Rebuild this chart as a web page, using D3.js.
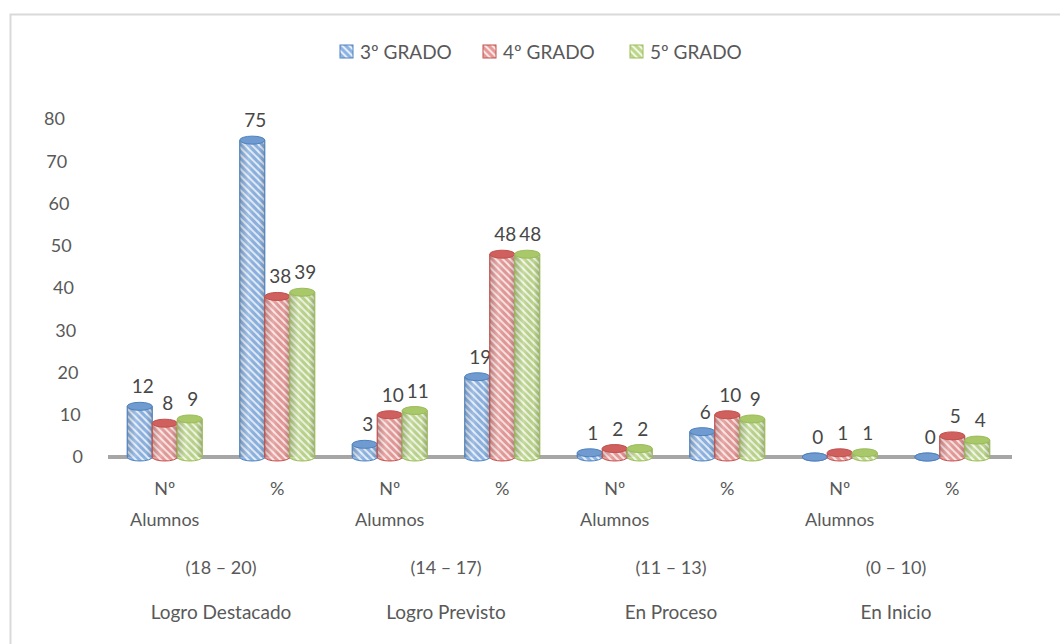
<!DOCTYPE html>
<meta charset="utf-8">
<script src="https://d3js.org/d3.v7.js"></script>
<style>
  body { margin: 0; background: #fff; }
  text { font-family: Lato, "Open Sans", sans-serif; fill: #595959; }
</style>
<div id="my_dataviz"></div>
<script>

// data
const categories = ["Nº Alumnos", "%", "Nº Alumnos", "%", "Nº Alumnos", "%", "Nº Alumnos", "%"];
const ranges = ["(18 – 20)", "(14 – 17)", "(11 – 13)", "(0 – 10)"];
const levels = ["Logro Destacado", "Logro Previsto", "En Proceso", "En Inicio"];
const seriesNames = ["3º GRADO", "4º GRADO", "5º GRADO"];
const grado3 = [12, 75, 3, 19, 1, 6, 0, 0];
const grado4 = [8, 38, 10, 48, 2, 10, 1, 5];
const grado5 = [9, 39, 11, 48, 2, 9, 1, 4];
const yTicks = [0, 10, 20, 30, 40, 50, 60, 70, 80];

const series = [grado3, grado4, grado5];
const colors = [
  {base: "#8db3e2", stripe: "#e4eefa", edge: "#4f81bd", top: "#6f9bd1"},
  {base: "#e59a98", stripe: "#fbe6e5", edge: "#c0504d", top: "#d0605d"},
  {base: "#bcd68c", stripe: "#f1f7e4", edge: "#9bbb59", top: "#a8c86a"}
];

const width = 1060, height = 644;
const svg = d3.select("#my_dataviz")
  .append("svg")
    .attr("width", width)
    .attr("height", height);

// outer frame
svg.append("rect")
  .attr("x", 10.5).attr("y", 14.5)
  .attr("width", 1060).attr("height", 640)
  .attr("fill", "none")
  .attr("stroke", "#d9d9d9")
  .attr("stroke-width", 2);

const defs = svg.append("defs");
colors.forEach(function(c, i) {
  const p = defs.append("pattern")
    .attr("id", "hatch" + i)
    .attr("patternUnits", "userSpaceOnUse")
    .attr("width", 5).attr("height", 5)
    .attr("patternTransform", "rotate(-45)");
  p.append("rect").attr("width", 5).attr("height", 5).attr("fill", c.base);
  p.append("rect").attr("width", 2).attr("height", 5).attr("fill", c.stripe);
});
// cylinder shading
const grad = defs.append("linearGradient").attr("id", "shade")
  .attr("x1", "0%").attr("x2", "100%");
grad.append("stop").attr("offset", "0%").attr("stop-color", "#000").attr("stop-opacity", 0.18);
grad.append("stop").attr("offset", "35%").attr("stop-color", "#fff").attr("stop-opacity", 0.15);
grad.append("stop").attr("offset", "75%").attr("stop-color", "#000").attr("stop-opacity", 0.0);
grad.append("stop").attr("offset", "100%").attr("stop-color", "#000").attr("stop-opacity", 0.2);

// scales
const x0 = d3.scaleBand()
  .domain(d3.range(categories.length))
  .range([108.5, 1008.5]);
const groupW = 75;
const x1 = d3.scaleBand()
  .domain(d3.range(series.length))
  .range([0, groupW]);
const y = d3.scaleLinear()
  .domain([0, 80])
  .range([457, 119]);
// tick labels lean to the left going up (3D wall)
const tickX = d3.scaleLinear().domain([0, 80]).range([83, 65]);

// y tick labels
svg.selectAll(".ytick")
  .data(yTicks)
  .join("text")
    .attr("class", "ytick")
    .attr("x", d => tickX(d))
    .attr("y", d => y(d))
    .attr("dy", "0.35em")
    .attr("text-anchor", "end")
    .style("font-size", "18px")
    .text(d => d);

// floor
svg.append("rect")
  .attr("x", 108).attr("y", 455)
  .attr("width", 904).attr("height", 4)
  .attr("fill", "#a6a6a6");

// bars as cylinders
const ry = 4;
const bars = [];
series.forEach(function(vals, s) {
  vals.forEach(function(v, i) {
    bars.push({s: s, i: i, v: v});
  });
});

const bar = svg.selectAll(".bar")
  .data(bars)
  .join("g")
    .attr("class", "bar")
    .attr("transform", d => `translate(${x0(d.i) + (x0.bandwidth() - groupW) / 2 + x1(d.s)}, 0)`);

const bw = x1.bandwidth();

bar.append("ellipse")
  .attr("cx", bw / 2).attr("cy", y(0))
  .attr("rx", bw / 2).attr("ry", ry)
  .attr("fill", d => `url(#hatch${d.s})`)
  .attr("stroke", d => colors[d.s].edge)
  .attr("stroke-width", 1);

bar.filter(d => d.v > 0).append("rect")
  .attr("x", 0).attr("y", d => y(d.v))
  .attr("width", bw).attr("height", d => y(0) - y(d.v))
  .attr("fill", d => `url(#hatch${d.s})`);

bar.filter(d => d.v > 0).append("rect")
  .attr("x", 0).attr("y", d => y(d.v))
  .attr("width", bw).attr("height", d => y(0) - y(d.v))
  .attr("fill", "url(#shade)");

bar.filter(d => d.v > 0).append("path")
  .attr("d", d => `M0,${y(d.v)}V${y(0)}M${bw},${y(d.v)}V${y(0)}`)
  .attr("stroke", d => colors[d.s].edge)
  .attr("stroke-width", 1.2);

bar.append("ellipse")
  .attr("cx", bw / 2).attr("cy", d => y(d.v))
  .attr("rx", bw / 2).attr("ry", ry)
  .attr("fill", d => colors[d.s].top)
  .attr("stroke", d => colors[d.s].edge)
  .attr("stroke-width", 1);

// value labels
bar.append("text")
  .attr("x", bw / 2 + 3)
  .attr("y", d => y(d.v) - 13)
  .attr("text-anchor", "middle")
  .style("font-size", "19px")
  .style("fill", "#474747")
  .text(d => d.v);

// category labels
const cat = svg.selectAll(".cat")
  .data(categories)
  .join("text")
    .attr("class", "cat")
    .attr("x", (d, i) => x0(i) + x0.bandwidth() / 2)
    .attr("y", 489)
    .attr("text-anchor", "middle")
    .style("font-size", "18px");
cat.each(function(d) {
  const words = d.split(" ");
  d3.select(this).selectAll("tspan")
    .data(words)
    .join("tspan")
      .attr("x", d3.select(this).attr("x"))
      .attr("dy", (w, k) => k === 0 ? "0.35em" : "31px")
      .text(w => w);
});

// group labels
svg.selectAll(".range")
  .data(ranges)
  .join("text")
    .attr("class", "range")
    .attr("x", (d, i) => x0(i * 2) + x0.bandwidth())
    .attr("y", 568)
    .attr("dy", "0.35em")
    .attr("text-anchor", "middle")
    .style("font-size", "18px")
    .text(d => d);

svg.selectAll(".level")
  .data(levels)
  .join("text")
    .attr("class", "level")
    .attr("x", (d, i) => x0(i * 2) + x0.bandwidth())
    .attr("y", 612)
    .attr("dy", "0.35em")
    .attr("text-anchor", "middle")
    .style("font-size", "19px")
    .text(d => d);

// legend
const legendX = [340, 483, 630];
const legend = svg.selectAll(".legend")
  .data(seriesNames)
  .join("g")
    .attr("class", "legend")
    .attr("transform", (d, i) => `translate(${legendX[i]}, 52)`);
legend.append("rect")
  .attr("x", 0).attr("y", -7)
  .attr("width", 13).attr("height", 13)
  .attr("fill", (d, i) => `url(#hatch${i})`)
  .attr("stroke", (d, i) => colors[i].edge);
legend.append("text")
  .attr("x", 20).attr("y", 0)
  .attr("dy", "0.35em")
  .style("font-size", "19px")
  .text(d => d);

</script>
